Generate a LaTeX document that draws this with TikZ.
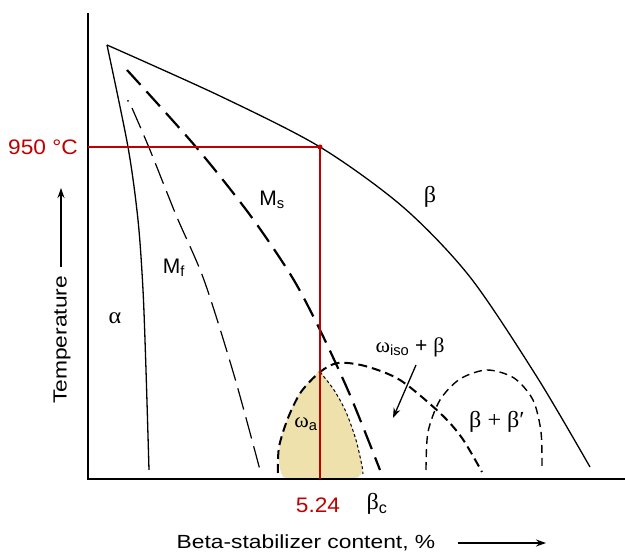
\documentclass[tikz,border=0pt]{standalone}
\usepackage{fontspec}
\setmainfont{Liberation Sans}[FakeStretch=1.2]
\newfontfamily\plainsf{Liberation Sans}
\newfontfamily\redsf{Liberation Sans}[FakeStretch=1.08]
\newfontfamily\grk{Liberation Serif}[FakeStretch=1.05]
\usetikzlibrary{arrows.meta,positioning}
\definecolor{markred}{RGB}{192,0,0}
\definecolor{omegafill}{RGB}{238,225,172}

\begin{document}
\begin{tikzpicture}[x=1pt, y=-1pt,
  lbl/.style={font=\fontsize{19}{21}\selectfont, inner sep=0pt},
  rlbl/.style={font=\fontsize{21}{23}\selectfont\plainsf, inner sep=0pt},
  glbl/.style={font=\fontsize{23}{25}\selectfont\grk, inner sep=0pt},
  redlbl/.style={font=\fontsize{21}{23}\selectfont\redsf, text=markred, inner sep=0pt},
  phase/.style={line width=1.3pt},
  msline/.style={line width=2.2pt, dash pattern=on 20pt off 9pt},
  mfline/.style={line width=1.2pt, dash pattern=on 22pt off 8pt},
  domeline/.style={line width=2pt, dash pattern=on 9pt off 5pt},
  bbline/.style={line width=1.4pt, dash pattern=on 8pt off 5pt},
  redline/.style={markred, line width=1.3pt},
]
\useasboundingbox (0,0) rectangle (625,556);

% omega_a region
\fill[omegafill, rounded corners=4pt] plot[smooth] coordinates {(282,478) (279,460) (281,440) (289,415) (302,390) (320,372)}
  -- plot[smooth] coordinates {(320,372) (334,390) (346,412) (356,440) (362,466) (360,478)} -- cycle;
\draw[line width=1pt, dash pattern=on 3pt off 2.5pt] plot[smooth] coordinates {(320,372) (334,390) (346,412) (356,440) (362,466) (363,474)};

% axes
\draw[phase] (88,13) -- (88,479) -- (625,479);

% phase boundaries
\draw[phase] plot[smooth] coordinates {(107,45) (220,96) (320,147) (403,207) (470,277) (537,377) (590,467)};
\draw[phase] plot[smooth] coordinates {(107,45) (128,147) (138,220) (143,290) (146,370) (149,470)};
\draw[msline] plot[smooth] coordinates {(127,70) (196,147) (250,215) (292,277) (320,330) (350,395) (380,470)};
\fill (128,101) circle (1pt);
\draw[mfline] plot[smooth] coordinates {(132,108) (150,150) (176,215) (204,280) (234,375) (260,470)};
\draw[domeline] plot[smooth] coordinates {(278,473) (279,447) (288,418) (301,392) (320,372) (338,363) (365,366) (400,380) (440,413) (462,438) (482,472)};
\draw[bbline] plot[smooth] coordinates {(426,470) (428,432) (440,400) (460,379) (487,370) (514,378) (533,400) (541,432) (542,470)};

% 950 C marker
\coordinate (y950) at (88,147);
\coordinate (p950) at (320,147);
\coordinate (x524) at (320,479);
\draw[redline] (y950) -- (p950) -- (x524);
\fill[markred] (p950) circle (2.5pt);
\node[redlbl] (t950) at (43,147) {950 °C};
\node[redlbl] (c524) at (318,505) {5.24};
\node[glbl] (betac) at (377,504) {β\textsubscript{\plainsf c}};

% region labels
\node[glbl] (alpha) at (115,318) {α};
\node[rlbl] (mf) at (174,268) {M\textsubscript{f}};
\node[rlbl] (ms) at (272,200) {M\textsubscript{s}};
\node[glbl] (beta) at (430,197) {β};
\node[rlbl] (wiso) at (410,347) {{\grk ω}\textsubscript{iso} + {\grk β}};
\node[rlbl] (wa) at (306,424) {{\grk ω}\textsubscript{a}};
\node[glbl] (bb) at (497,422) {β + β′};
\coordinate (wtail) at (416,365);
\coordinate (wtip) at (393,418);
\draw[phase, -{Stealth[length=10pt, width=7pt]}] (wtail) -- (wtip);

% axis titles
\node[lbl, rotate=90] (temp) at (62,340) {Temperature};
\coordinate (tbot) at (61,267);
\coordinate (ttop) at (61,188);
\draw[phase, -{Stealth[length=10pt, width=7pt]}] (tbot) -- (ttop);
\node[lbl] (xlab) at (306,543) {Beta-stabilizer content, \%};
\coordinate (xtail) at (458,543);
\coordinate (xtip) at (546,543);
\draw[phase, -{Stealth[length=10pt, width=7pt]}] (xtail) -- (xtip);
\end{tikzpicture}
\end{document}
